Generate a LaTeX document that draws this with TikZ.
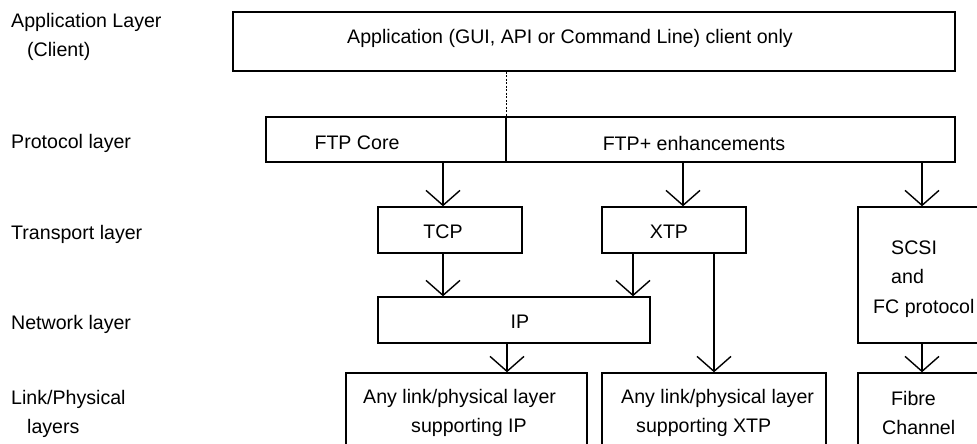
\documentclass[tikz,border=0pt]{standalone}
\usepackage{fontspec}
\setmainfont{Liberation Sans}
\usepackage{tikz}
\usetikzlibrary{arrows.meta, positioning}

\begin{document}
\begin{tikzpicture}[x=1pt, y=-1pt,
        layer/.style={rectangle, draw, line width=1.4pt, inner sep=0pt},
        txt/.style={inner sep=0pt, font=\fontsize{19.6}{29.5}\selectfont, align=left},
        flow/.style={-{Straight Barb[length=15pt, width=34pt]}, line width=1.4pt}]
        \useasboundingbox (0,0) rectangle (977,444);
        \clip (0,0) rectangle (977,444);

        % layer names on the left
        \node (lapp) [txt, anchor=west] at (11,37) {Application Layer\\\hspace*{16pt}(Client)};
        \node (lproto) [txt, anchor=west] at (11,143) {Protocol layer};
        \node (ltrans) [txt, anchor=west] at (11,234) {Transport layer};
        \node (lnet) [txt, anchor=west] at (11,324) {Network layer};
        \node (llink) [txt, anchor=west] at (11,414) {Link/Physical\\\hspace*{16pt}layers};

        % boxes
        \node (app) [layer, minimum width=722pt, minimum height=59pt] at (594,41.5) {};
        \node (core) [layer, minimum width=240pt, minimum height=45pt] at (386,139.5) {};
        \node (plus) [layer, minimum width=449pt, minimum height=45pt] at (730.5,139.5) {};
        \node (tcp) [layer, minimum width=144pt, minimum height=46pt] at (450,230) {};
        \node (xtp) [layer, minimum width=144pt, minimum height=46pt] at (674,230) {};
        \node (scsi) [layer, minimum width=128pt, minimum height=136pt] at (922,275) {};
        \node (ip) [layer, minimum width=272pt, minimum height=46pt] at (514,320) {};
        \node (linkip) [layer, minimum width=241pt, minimum height=107pt] at (466.5,426.5) {};
        \node (linkxtp) [layer, minimum width=224pt, minimum height=107pt] at (714,426.5) {};
        \node (fibre) [layer, minimum width=128pt, minimum height=107pt] at (922,426.5) {};

        % box texts
        \node (tapp) [txt] at (570,38) {Application (GUI, API or Command Line) client only};
        \node (tcore) [txt] at (357,143) {FTP Core};
        \node (tplus) [txt] at (694,143) {FTP+ enhancements};
        \node (ttcp) [txt] at (443,232) {TCP};
        \node (txtp) [txt] at (669,232) {XTP};
        \node (tscsi) [txt, anchor=west] at (873,279) {\hspace*{18pt}SCSI\\\hspace*{18pt}and\\FC protocol};
        \node (tip) [txt] at (520,322) {IP};
        \node (tlinkip) [txt, anchor=west] at (363,413) {Any link/physical layer\\\hspace*{48pt}supporting IP};
        \node (tlinkxtp) [txt, anchor=west] at (621,413) {Any link/physical layer\\\hspace*{15pt}supporting XTP};
        \node (tfibre) [txt, anchor=west] at (882,413) {\hspace*{9pt}Fibre\\Channel};

        % where the arrows meet the boxes
        \coordinate (tcpin) at ([xshift=-7pt]tcp.north);
        \coordinate (tcpout) at ([xshift=-7pt]tcp.south);
        \coordinate (xtpin) at ([xshift=9pt]xtp.north);
        \coordinate (xtpout) at ([xshift=-41pt]xtp.south);
        \coordinate (ipout) at ([xshift=-7pt]ip.south);

        \draw [line width=0.7pt, dash pattern=on 2pt off 1.5pt] (app.south -| core.east) -- (core.north east);
        \draw [flow] (core.south -| tcpin) -- (tcpin);
        \draw [flow] (plus.south -| xtpin) -- (xtpin);
        \draw [flow] (plus.south -| scsi.north) -- (scsi.north);
        \draw [flow] (tcpout) -- (tcpout |- ip.north);
        \draw [flow] (xtpout) -- (xtpout |- ip.north);
        \draw [flow] (xtp.south -| linkxtp.north) -- (linkxtp.north);
        \draw [flow] (ipout) -- (ipout |- linkip.north);
        \draw [flow] (scsi.south) -- (fibre.north);
    \end{tikzpicture}
\end{document}
